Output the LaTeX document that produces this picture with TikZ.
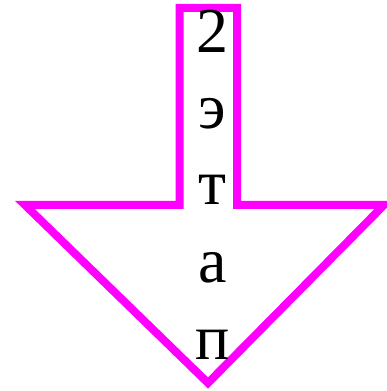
\documentclass[tikz,border=0pt]{standalone}
\usepackage{fontspec}
\setmainfont{Liberation Serif}
\definecolor{mag}{RGB}{255,0,255}
\begin{document}
\begin{tikzpicture}[x=1pt,y=1pt,
  arrowline/.style={draw=mag,line width=8pt,line join=miter},
  letter/.style={anchor=base,inner sep=0pt,font=\fontsize{64}{77}\selectfont}]
\useasboundingbox (0,0) rectangle (387,391);
\draw[arrowline] (179.5,383) -- (237,383) -- (237,186) -- (384,186) -- (208,8) -- (25,186) -- (179.5,186) -- cycle;
\node[letter] (l1) at (212.5,338) {2};
\node[letter] (l2) at (212.5,262) {э};
\node[letter] (l3) at (212.5,186) {т};
\node[letter] (l4) at (212.5,108) {а};
\node[letter] (l5) at (212.5,31) {п};
\end{tikzpicture}
\end{document}
